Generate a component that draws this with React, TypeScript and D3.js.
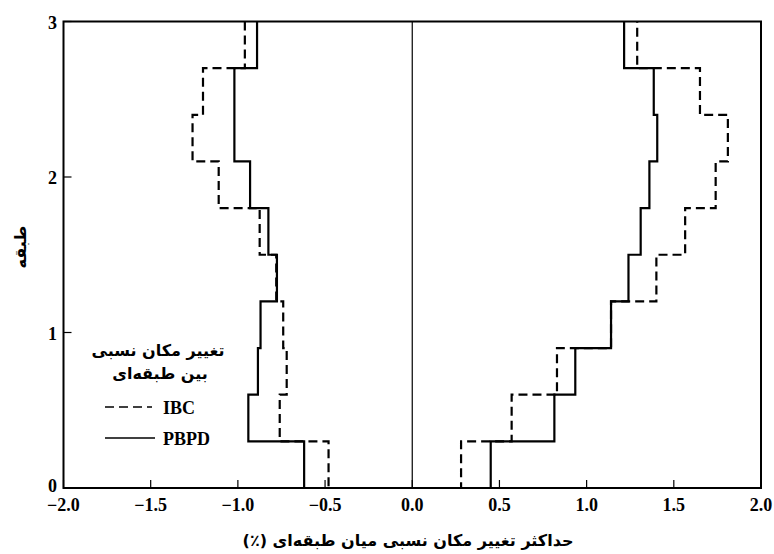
import React from "react";
import * as d3 from "d3";

// Story boundaries (y) and drift values per story segment (bottom to top)
const storyLevels = [0, 0.3, 0.6, 0.9, 1.2, 1.5, 1.8, 2.1, 2.4, 2.7, 3.0];
const ibcLeft = [-0.48, -0.76, -0.72, -0.74, -0.78, -0.875, -1.11, -1.26, -1.2, -0.96];
const ibcRight = [0.28, 0.57, 0.83, 1.14, 1.4, 1.565, 1.74, 1.81, 1.65, 1.29];
const pbpdLeft = [-0.62, -0.94, -0.885, -0.87, -0.776, -0.825, -0.93, -1.02, -1.02, -0.89];
const pbpdRight = [0.45, 0.815, 0.935, 1.14, 1.24, 1.31, 1.36, 1.405, 1.385, 1.215];

const xTicks = [-2, -1.5, -1, -0.5, 0, 0.5, 1, 1.5, 2];
const yTicks = [0, 1, 2, 3];

const xLabel = "حداکثر تغییر مکان نسبی میان طبقه\u200Cای (٪)";
const yLabel = "طبقه";
const legendTitle1 = "تغییر مکان نسبی";
const legendTitle2 = "بین طبقه\u200Cای";
const seriesNames = ["IBC", "PBPD"];

const W = 774;
const H = 554;
const x = d3.scaleLinear().domain([-2, 2]).range([63.5, 761]);
const y = d3.scaleLinear().domain([0, 3]).range([488, 21.5]);

function profile(left: number[], right: number[]): [number, number][] {
  const pts: [number, number][] = [];
  const n = left.length;
  for (let i = n - 1; i >= 0; i--) {
    pts.push([left[i], storyLevels[i + 1]]);
    pts.push([left[i], storyLevels[i]]);
  }
  for (let i = 0; i < n; i++) {
    pts.push([right[i], storyLevels[i]]);
    pts.push([right[i], storyLevels[i + 1]]);
  }
  return pts;
}

const line = d3
  .line<[number, number]>()
  .x((d) => x(d[0]))
  .y((d) => y(d[1]));

const serif = "'Liberation Serif', 'Times New Roman', serif";
const persian = "'DejaVu Sans', sans-serif";

export default function App() {
  const fmt = (v: number) => (v < 0 ? "\u2212" : "") + Math.abs(v).toFixed(1);
  return (
    <svg
      width={W}
      height={H}
      style={{ position: "absolute", left: 0, top: 0, background: "#fff" }}
    >
      {/* zero line */}
      <line x1={x(0)} x2={x(0)} y1={y(0)} y2={y(3)} stroke="#000" strokeWidth={1.2} />
      {/* ticks */}
      {xTicks.map((t) => (
        <line key={"xt" + t} x1={x(t)} x2={x(t)} y1={y(0)} y2={y(0) - 8} stroke="#000" strokeWidth={1.2} />
      ))}
      {yTicks.map((t) => (
        <line key={"yt" + t} x1={x(-2)} x2={x(-2) + 8} y1={y(t)} y2={y(t)} stroke="#000" strokeWidth={1.2} />
      ))}
      {/* data */}
      <path
        d={line(profile(ibcLeft, ibcRight)) || ""}
        fill="none"
        stroke="#000"
        strokeWidth={2.2}
        strokeDasharray="9,5"
      />
      <path d={line(profile(pbpdLeft, pbpdRight)) || ""} fill="none" stroke="#000" strokeWidth={2.2} />
      {/* frame */}
      <rect
        x={x(-2)}
        y={y(3)}
        width={x(2) - x(-2)}
        height={y(0) - y(3)}
        fill="none"
        stroke="#000"
        strokeWidth={2}
      />
      {/* tick labels */}
      {xTicks.map((t) => (
        <text
          key={"xl" + t}
          x={x(t)}
          y={511}
          textAnchor="middle"
          fontFamily={serif}
          fontWeight="bold"
          fontSize={18}
        >
          {fmt(t)}
        </text>
      ))}
      {yTicks.map((t) => (
        <text
          key={"yl" + t}
          x={57}
          y={t === 0 ? y(t) + 4 : y(t) + 7}
          textAnchor="end"
          fontFamily={serif}
          fontWeight="bold"
          fontSize={18}
        >
          {t}
        </text>
      ))}
      {/* axis labels */}
      <text
        x={408}
        y={546}
        textAnchor="middle"
        direction="rtl"
        style={{ direction: "rtl", unicodeBidi: "embed" }}
        fontFamily={persian}
        fontWeight="bold"
        fontSize={16}
      >
        {xLabel}
      </text>
      <text
        transform={`translate(26,${y(1.55)}) rotate(-90)`}
        textAnchor="middle"
        fontFamily={persian}
        fontWeight="bold"
        fontSize={16}
      >
        {yLabel}
      </text>
      {/* legend */}
      <text
        x={158}
        y={356}
        textAnchor="middle"
        style={{ direction: "rtl" }}
        fontFamily={persian}
        fontWeight="bold"
        fontSize={16}
      >
        {legendTitle1}
      </text>
      <text
        x={160}
        y={379}
        textAnchor="middle"
        style={{ direction: "rtl" }}
        fontFamily={persian}
        fontWeight="bold"
        fontSize={16}
      >
        {legendTitle2}
      </text>
      <line x1={105} x2={152} y1={407} y2={407} stroke="#000" strokeWidth={1.6} strokeDasharray="9,5" />
      <line x1={105} x2={155} y1={438} y2={438} stroke="#000" strokeWidth={1.6} />
      <text x={163} y={414} fontFamily={serif} fontWeight="bold" fontSize={18}>
        {seriesNames[0]}
      </text>
      <text x={163} y={445} fontFamily={serif} fontWeight="bold" fontSize={18}>
        {seriesNames[1]}
      </text>
    </svg>
  );
}
